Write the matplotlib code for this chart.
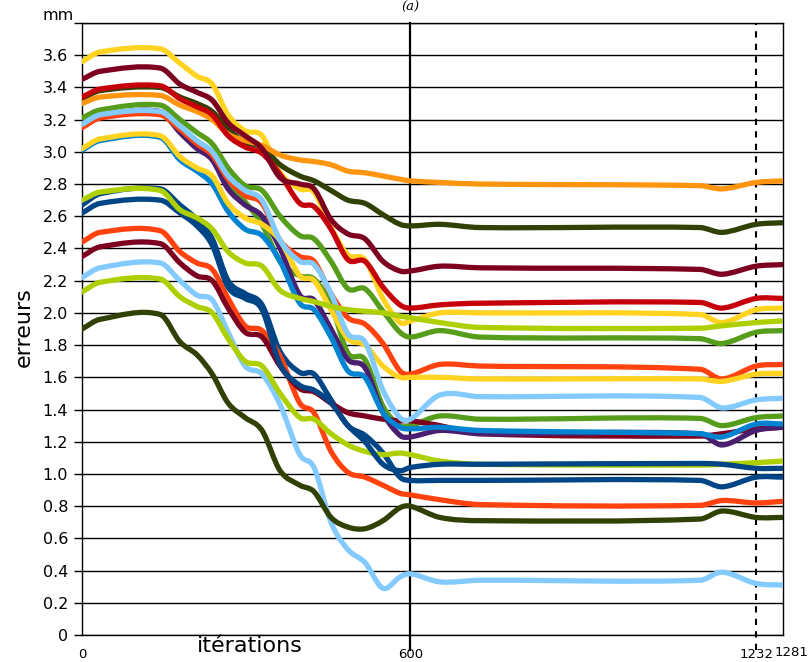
import numpy as np
import matplotlib
matplotlib.use("Agg")
import matplotlib.pyplot as plt
from matplotlib.path import Path
from matplotlib.patches import PathPatch

# abscisses communes (itérations)
iterations = [0, 33, 143, 179, 210, 238, 267, 298, 329, 362, 398, 424, 455,
              486, 517, 550, 581, 600, 654, 727, 1129, 1170, 1232, 1281]

# erreurs (mm)
dblue_a = [2.67, 2.74, 2.77, 2.67, 2.58, 2.46, 2.20, 2.12, 2.05, 1.76, 1.63, 1.62,
           1.46, 1.30, 1.24, 1.13, 0.98, 0.96, 0.96, 0.96, 0.96, 0.92, 0.98, 0.98]
orangered_b = [2.44, 2.50, 2.51, 2.38, 2.31, 2.27, 2.09, 1.92, 1.89, 1.73, 1.44, 1.38,
               1.14, 1.01, 0.98, 0.93, 0.88, 0.87, 0.84, 0.81, 0.805, 0.835, 0.82, 0.83]
yellow_a = [3.56, 3.62, 3.64, 3.55, 3.47, 3.42, 3.23, 3.13, 3.10, 2.87, 2.77, 2.75,
            2.53, 2.36, 2.33, 2.09, 1.94, 1.95, 2.00, 2.00, 1.99, 1.94, 2.02, 2.03]
green_b = [3.16, 3.22, 3.235, 3.13, 3.04, 2.97, 2.81, 2.69, 2.55, 2.32, 2.23, 2.21,
           2.05, 1.75, 1.71, 1.42, 1.30, 1.30, 1.36, 1.34, 1.345, 1.30, 1.35, 1.36]
maroon_b = [2.35, 2.41, 2.43, 2.31, 2.23, 2.20, 2.03, 1.88, 1.85, 1.67, 1.53, 1.51,
            1.44, 1.38, 1.36, 1.34, 1.33, 1.33, 1.30, 1.25, 1.235, 1.25, 1.28, 1.29]
lblue_b = [2.22, 2.28, 2.31, 2.20, 2.11, 2.08, 1.88, 1.67, 1.62, 1.43, 1.12, 1.04,
           0.70, 0.53, 0.45, 0.29, 0.36, 0.38, 0.33, 0.34, 0.34, 0.39, 0.32, 0.31]
olive_a = [3.33, 3.38, 3.40, 3.34, 3.30, 3.25, 3.14, 3.06, 3.03, 2.92, 2.85, 2.82,
           2.76, 2.70, 2.68, 2.61, 2.55, 2.54, 2.55, 2.53, 2.53, 2.50, 2.55, 2.56]
ygreen_b = [2.13, 2.19, 2.21, 2.10, 2.04, 2.00, 1.84, 1.70, 1.67, 1.50, 1.35, 1.34,
            1.25, 1.18, 1.14, 1.12, 1.13, 1.12, 1.08, 1.06, 1.055, 1.06, 1.07, 1.08]
purple = [3.17, 3.22, 3.25, 3.12, 3.02, 2.95, 2.77, 2.67, 2.60, 2.40, 2.11, 2.08,
          1.90, 1.71, 1.66, 1.38, 1.24, 1.23, 1.27, 1.25, 1.25, 1.18, 1.27, 1.29]
orange = [3.30, 3.34, 3.35, 3.29, 3.25, 3.20, 3.11, 3.07, 3.04, 2.98, 2.95, 2.94,
          2.92, 2.88, 2.87, 2.85, 2.83, 2.82, 2.81, 2.80, 2.79, 2.77, 2.81, 2.82]
red = [3.34, 3.39, 3.41, 3.33, 3.28, 3.23, 3.10, 3.03, 2.99, 2.86, 2.68, 2.66,
       2.52, 2.33, 2.32, 2.16, 2.05, 2.03, 2.05, 2.06, 2.065, 2.03, 2.09, 2.09]
blue = [3.01, 3.07, 3.09, 2.95, 2.88, 2.80, 2.63, 2.52, 2.48, 2.32, 2.06, 2.02,
        1.85, 1.64, 1.60, 1.38, 1.29, 1.28, 1.29, 1.27, 1.25, 1.23, 1.31, 1.31]
dblue_b = [2.62, 2.68, 2.70, 2.62, 2.54, 2.42, 2.16, 2.09, 2.02, 1.68, 1.55, 1.52,
           1.44, 1.30, 1.20, 1.06, 1.02, 1.04, 1.06, 1.06, 1.065, 1.06, 1.035, 1.035]
orangered_a = [3.15, 3.21, 3.23, 3.14, 3.05, 2.98, 2.83, 2.73, 2.68, 2.45, 2.35, 2.32,
               2.12, 1.97, 1.93, 1.81, 1.64, 1.62, 1.68, 1.67, 1.65, 1.59, 1.67, 1.68]
yellow_b = [3.02, 3.08, 3.10, 2.97, 2.90, 2.85, 2.68, 2.59, 2.55, 2.45, 2.23, 2.20,
            2.02, 1.84, 1.80, 1.67, 1.60, 1.60, 1.60, 1.59, 1.59, 1.575, 1.62, 1.625]
green_a = [3.21, 3.26, 3.29, 3.20, 3.12, 3.05, 2.90, 2.79, 2.76, 2.60, 2.48, 2.46,
           2.32, 2.15, 2.15, 2.01, 1.88, 1.85, 1.89, 1.85, 1.84, 1.81, 1.88, 1.89]
maroon_a = [3.45, 3.50, 3.52, 3.42, 3.37, 3.32, 3.18, 3.10, 3.02, 2.84, 2.80, 2.77,
            2.58, 2.49, 2.46, 2.32, 2.26, 2.26, 2.29, 2.28, 2.27, 2.24, 2.29, 2.30]
lblue_a = [3.17, 3.23, 3.25, 3.16, 3.07, 3.00, 2.85, 2.76, 2.70, 2.45, 2.32, 2.30,
           2.12, 1.87, 1.82, 1.52, 1.35, 1.34, 1.49, 1.48, 1.475, 1.41, 1.46, 1.47]
olive_b = [1.90, 1.96, 1.99, 1.82, 1.74, 1.62, 1.44, 1.35, 1.27, 1.02, 0.93, 0.89,
           0.73, 0.67, 0.66, 0.71, 0.79, 0.80, 0.73, 0.71, 0.72, 0.77, 0.73, 0.73]
ygreen_a = [2.70, 2.75, 2.76, 2.64, 2.59, 2.52, 2.38, 2.31, 2.29, 2.14, 2.09, 2.07,
            2.04, 2.02, 2.01, 2.00, 1.98, 1.97, 1.94, 1.91, 1.905, 1.92, 1.94, 1.95]

series = [dblue_a, orangered_b, yellow_a, green_b, maroon_b, lblue_b, olive_a, ygreen_b,
          purple, orange, red, blue, dblue_b, orangered_a, yellow_b, green_a,
          maroon_a, lblue_a, olive_b, ygreen_a]

# palette par défaut de LibreOffice Calc
palette = ['#004586', '#ff420e', '#ffd320', '#579d1c', '#7e0021', '#83caff',
           '#314004', '#aecf00', '#4b1f6f', '#ff950e', '#c5000b', '#0084d1']

yticks = [0, 0.2, 0.4, 0.6, 0.8, 1.0, 1.2, 1.4, 1.6, 1.8, 2.0, 2.2, 2.4, 2.6,
          2.8, 3.0, 3.2, 3.4, 3.6, 3.8]
ytick_labels = ['0', '0.2', '0.4', '0.6', '0.8', '1.0', '1.2', '1.4', '1.6', '1.8',
                '2.0', '2.2', '2.4', '2.6', '2.8', '3.0', '3.2', '3.4', '3.6', '']
xticks = [0, 600, 1232, 1281]
xtick_labels = ['0', '600', '1232', '']
last_label = '1281'


def courbe_lissee(x, y):
    # courbe lissée (type tableur) : Hermite cubique -> Bézier
    x = np.asarray(x, float)
    y = np.asarray(y, float)
    m = np.empty_like(y)
    m[1:-1] = (y[2:] - y[:-2]) / (x[2:] - x[:-2])
    m[0] = (y[1] - y[0]) / (x[1] - x[0])
    m[-1] = (y[-1] - y[-2]) / (x[-1] - x[-2])
    verts = [(x[0], y[0])]
    codes = [Path.MOVETO]
    for i in range(len(x) - 1):
        h = x[i + 1] - x[i]
        verts += [(x[i] + h / 3, y[i] + m[i] * h / 3),
                  (x[i + 1] - h / 3, y[i + 1] - m[i + 1] * h / 3),
                  (x[i + 1], y[i + 1])]
        codes += [Path.CURVE4] * 3
    return Path(verts, codes)


fig = plt.figure(figsize=(8.12, 6.62), dpi=100)
ax = fig.add_axes([82 / 812, 1 - 635 / 662, 701 / 812, 612 / 662])

for k, s in enumerate(series):
    p = PathPatch(courbe_lissee(iterations, s), fill=False,
                  edgecolor=palette[k % 12], lw=3.8, capstyle='round',
                  joinstyle='round', zorder=3)
    ax.add_patch(p)

ax.set_xlim(0, 1281)
ax.set_ylim(0, 3.8)

ax.set_yticks(yticks)
ax.set_yticklabels(ytick_labels)
ax.grid(axis='y', color='black', lw=1.0, zorder=1)
ax.tick_params(axis='y', direction='out', length=6, width=1, labelsize=11.5, pad=4)

ax.set_xticks(xticks)
ax.set_xticklabels(xtick_labels)
ax.tick_params(axis='x', length=0, labelsize=9.5, pad=9)

for sp in ax.spines.values():
    sp.set_color('black')
    sp.set_linewidth(1.0)

# repères verticaux
ax.plot([600, 600], [-0.095, 3.8], color='black', lw=1.6, clip_on=False, zorder=2)
ax.plot([1232, 1232], [-0.095, 3.8], color='black', lw=1.5, ls=(0, (3, 3)),
        clip_on=False, zorder=2)

ax.text(-0.012, 3.8, 'mm', transform=ax.get_yaxis_transform(), ha='right', va='bottom',
        fontsize=11.5)
fig.text(0.996, 1 - 652 / 662, last_label, ha='right', va='center', fontsize=9.5)

fig.text(250 / 812, 1 - 646 / 662, 'itérations', ha='center', va='center', fontsize=16)
fig.text(24 / 812, 1 - 327 / 662, 'erreurs', ha='center', va='center', rotation=90,
         fontsize=16)
fig.text(410 / 812, 0.999, '(a)', ha='center', va='top', fontsize=9.5,
         family='DejaVu Serif', style='italic')

fig.savefig('out.png', dpi=100)
